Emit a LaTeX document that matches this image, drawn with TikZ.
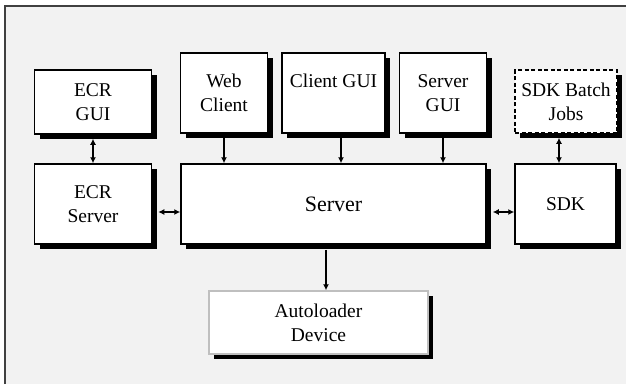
\documentclass[tikz,border=0pt]{standalone}
\usepackage{fontspec}
\setmainfont{Liberation Serif}
\usetikzlibrary{arrows.meta, shadows}

\begin{document}
\begin{tikzpicture}[x=1pt, y=-1pt,
    every node/.style={font=\fontsize{19.5}{24}\selectfont, align=center, inner sep=0pt},
    block/.style={draw=black, line width=1.5pt, fill=white,
        drop shadow={opacity=1, fill=black, shadow xshift=5pt, shadow yshift=-5pt}},
    link/.style={line width=1.6pt, {Latex[length=6pt,width=6pt]}-{Latex[length=6pt,width=6pt]}},
    down/.style={line width=1.6pt, -{Latex[length=6pt,width=6pt]}}]
    \useasboundingbox (0,0) rectangle (626,384);
    % FRAME
    \fill[gray!10] (5,6) rectangle (626,384);
    \draw[black!75, line width=1.3pt] (5,384) -- (5,6) -- (626,6);
    % GUIS
    \node[block, minimum width=117pt, minimum height=64pt] (ecrgui) at (93,102) {ECR\\GUI};
    \node[block, minimum width=87pt, minimum height=80pt] (web) at (224,93) {Web\\Client};
    \node[block, minimum width=103pt, minimum height=80pt] (clientgui) at (333.5,93) {Client GUI\\\mbox{}};
    \node[block, minimum width=87pt, minimum height=80pt] (servergui) at (443,93) {Server\\GUI};
    \node[block, dash pattern=on 4pt off 2.5pt, minimum width=102pt, minimum height=63pt] (sdkbatch) at (566,101.5) {SDK Batch\\Jobs};
    % SERVERS
    \node[block, minimum width=117pt, minimum height=80pt] (ecrserver) at (93,204) {ECR\\Server};
    \node[block, minimum width=305pt, minimum height=80pt, font=\fontsize{22}{26}\selectfont] (server) at (333.5,204) {Server};
    \node[block, minimum width=101pt, minimum height=80pt] (sdk) at (565.5,204) {SDK};
    % DEVICE
    \node[block, draw=black!25, minimum width=219pt, minimum height=63pt] (autoloader) at (318.5,322.5) {Autoloader\\Device};
    % CONNECTORS
    \draw[link] ([yshift=-4pt]ecrgui.south) -- (ecrserver.north);
    \draw[down] ([yshift=-4pt]web.south) -- (web.south |- server.north);
    \draw[down] ([xshift=7.5pt,yshift=-4pt]clientgui.south) -- ([xshift=7.5pt]clientgui.south |- server.north);
    \draw[down] ([yshift=-4pt]servergui.south) -- (servergui.south |- server.north);
    \draw[link] ([xshift=-7pt,yshift=-4pt]sdkbatch.south) -- ([xshift=-7pt]sdkbatch.south |- sdk.north);
    \draw[link] ([xshift=6pt,yshift=-8pt]ecrserver.east) -- ([yshift=-8pt]server.west);
    \draw[link] ([xshift=6pt,yshift=-8pt]server.east) -- ([yshift=-8pt]sdk.west);
    \draw[down] ([xshift=-7.5pt,yshift=-5pt]server.south) -- ([xshift=-7.5pt]server.south |- autoloader.north);
\end{tikzpicture}
\end{document}
